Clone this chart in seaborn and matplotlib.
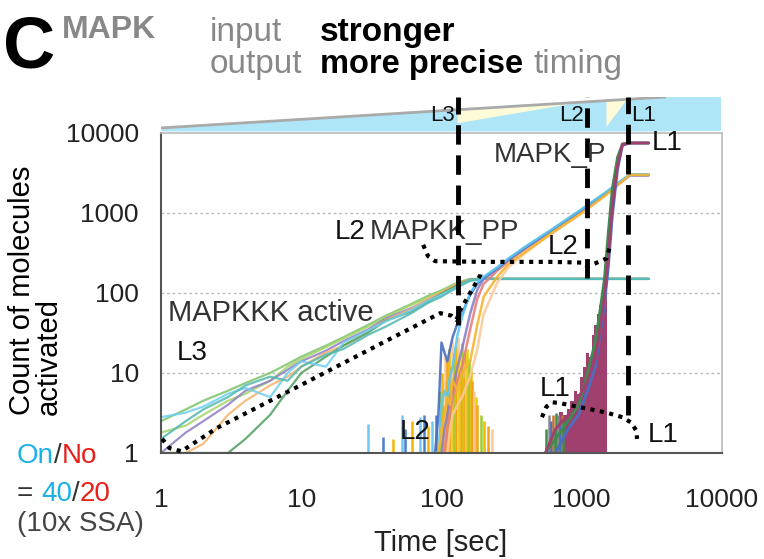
import math
import matplotlib
matplotlib.use("Agg")
import matplotlib.pyplot as plt
import seaborn as sns
from matplotlib.patches import Polygon

# ---- values (time in sec, molecule counts) ----
t_kkk = [1, 1.5, 2, 3, 4, 6, 8, 10, 15, 20, 30, 40, 60, 80, 100, 130, 160, 200, 3000]
kkk_green = [2.5, 3.5, 4.5, 6, 7.5, 10, 13, 16, 22, 28, 40, 52, 72, 92, 108, 135, 150, 150, 150]
kkk_cyan = [2.8, 3.2, 3.8, 5.5, 6.5, 5, 10, 14, 12, 24, 34, 44, 60, 80, 95, 120, 145, 150, 150]
kkk_purple = [1, 1.8, 2.5, 4, 6, 8, 11, 14, 19, 25, 35, 48, 64, 82, 100, 128, 148, 150, 150]
kkk_orange = [1, 1, 1.3, 3, 4.5, 7, 9, 12, 18, 22, 33, 46, 62, 85, 102, 130, 147, 150, 150]
kkk_dkgreen = [1, 1, 1, 1, 1.5, 3, 6, 10, 16, 22, 32, 45, 58, 78, 98, 125, 146, 150, 150]
kkk_ltgreen = [1.8, 2.2, 3, 4.5, 5.5, 8, 12, 15, 21, 27, 38, 50, 70, 88, 105, 132, 149, 150, 150]
kkk_teal = [1.5, 2.5, 3.5, 5, 7, 9, 8, 12, 17, 20, 30, 38, 55, 75, 90, 118, 142, 150, 150]

t_pp = [90, 95, 100, 105, 110, 115, 120, 130, 140, 160, 180, 200, 250, 300, 400, 600,
        1000, 1500, 2200, 3000]
pp_blue = [1, 3, 24, 18, 14, 20, 28, 42, 55, 95, 130, 155, 205, 265, 375, 600, 1100, 1800, 3000, 3000]
pp_cyan = [1, 1, 4, 6, 5, 9, 12, 30, 50, 100, 135, 160, 210, 270, 385, 610, 1120, 1850, 3050, 3050]
pp_purple = [1, 1, 1, 2, 3, 5, 6, 12, 20, 55, 110, 150, 200, 260, 370, 590, 1080, 1780, 2950, 2950]
pp_red = [1, 1, 1, 1, 2, 3, 5, 8, 12, 35, 85, 130, 190, 250, 360, 580, 1060, 1760, 3000, 3000]
pp_ltorange = [1, 1, 1, 1, 1, 2, 3, 4, 5, 9, 20, 55, 135, 210, 320, 540, 990, 1700, 2950, 2950]
pp_yellow = [1, 1, 2, 3, 5, 4, 8, 6, 10, 14, 40, 90, 160, 230, 330, 550, 1000, 1700, 3000, 3000]

l2_spike_t = [30, 38, 45, 52, 55, 62, 70, 75, 80, 86, 92, 98, 101, 104, 106, 108, 110, 112,
              114, 116, 118, 120, 122, 124, 126, 128, 131, 134, 137, 140, 143, 146, 149,
              152, 155, 158, 161, 165, 170, 175, 180, 190, 200, 215, 230]
l2_spike_v = [2.3, 1.6, 1.5, 3, 2, 2.5, 2.8, 3, 2.2, 2.5, 3, 6, 10, 4, 16, 8, 14, 6, 20, 12,
              25, 9, 18, 14, 22, 10, 28, 16, 12, 24, 9, 18, 13, 20, 8, 15, 11, 8, 6, 5,
              4, 3, 2.5, 2.2, 2]

t_p = [550, 650, 800, 950, 1100, 1250, 1350, 1450, 1550, 1650, 1800, 1950, 2200, 3000]
p_maroon = [1, 2, 3, 5, 8, 15, 35, 90, 300, 1200, 4000, 7200, 7500, 7500]
p_green = [1, 1.5, 2.5, 4, 10, 25, 60, 150, 600, 2000, 5000, 7300, 7500, 7500]
p_blue = [1, 1, 2, 3, 6, 12, 30, 70, 220, 900, 3500, 7000, 7500, 7500]

fill_t = [680, 700, 760, 800, 850, 900, 950, 1000, 1050, 1100, 1150, 1200, 1250, 1300,
          1350, 1400, 1450, 1500, 1510]
fill_v = [2.5, 3.3, 3, 3.5, 4.5, 6, 5.5, 9, 12, 18, 16, 30, 40, 55, 70, 100, 120, 200, 1]

l1_spike_t = [560, 580, 600, 620, 640, 660, 680, 700, 720, 740]
l1_spike_v = [2, 3, 2.5, 3, 2, 3.2, 3, 2.5, 3, 2.6]

# dotted guide curves and dashed thresholds
l3_path_t = [1.02, 1.15, 1.4, 2.5, 10, 40, 98, 118, 128, 135, 160, 190, 192]
l3_path_v = [1.5, 1.15, 1.05, 2.05, 7.1, 25, 56, 52, 46, 60, 100, 170, 190]
l2_path_t = [74, 80, 90, 200, 600, 1000, 1100, 1250, 1500, 1600]
l2_path_v = [400, 290, 250, 245, 245, 240, 215, 235, 270, 400]
l1_path_t = [520, 560, 620, 700, 1000, 1500, 1950, 2250, 2450, 2480]
l1_path_v = [2.8, 3.8, 4.3, 4.2, 3.7, 3.2, 2.8, 2.4, 1.9, 1.5]
thr_t = [131, 1090, 2140]
thr_bottom = [40, 153, 3]

yticks = [1, 10, 100, 1000, 10000]
xticks = [1, 10, 100, 1000, 10000]

sns.set_style("white")
plt.rcParams['font.family'] = ['Liberation Sans', 'DejaVu Sans']

W, H = 764, 559
fig = plt.figure(figsize=(W / 100, H / 100), dpi=100)

def fx(px):
    return px / W

def fy(py):
    return 1 - py / H

# top band (input strength wedge)
bax = fig.add_axes([fx(161), fy(131), fx(722 - 161), (131 - 97) / H])
bax.set_xscale('log')
bax.set_xlim(1, 10000)
bax.set_ylim(0, 1)
bax.axis('off')
band_t = [1, 3930]
band_y = [0.09, 1.0]
cyan = '#aee6f8'
bax.fill_between(band_t, [0, 0], band_y, color=cyan, lw=0)
bax.fill_between([3930, 9800], [0, 0], [1, 1], color=cyan, lw=0)

def grey_y(t):
    return 0.09 + 0.91 * math.log10(t) / 3.594

bax.add_patch(Polygon([(131, grey_y(131)), (131, 0.23), (1000, grey_y(1000))],
                      closed=True, color='#fdfbd8', lw=0))
bax.add_patch(Polygon([(1500, 0.12), (1500, grey_y(1500)), (2140, 0.97)],
                      closed=True, color='#fdfbd8', lw=0))
bax.plot(band_t, band_y, color='#aaaaaa', lw=2)
for lab, t in zip(['L3', 'L2'], [124, 1030]):
    bax.text(t, 0.45, lab, ha='right', va='center', fontsize=16, color='#111')
bax.text(2250, 0.45, 'L1', ha='left', va='center', fontsize=16, color='#111')

# main axes
ax = fig.add_axes([fx(161), fy(453), fx(722 - 161), (453 - 133) / H])
ax.set_xscale('log')
ax.set_yscale('log')

kkk = [(kkk_green, '#7cc36a'), (kkk_ltgreen, '#a6d46a'), (kkk_purple, '#8f7fc4'),
       (kkk_orange, '#f6b26b'), (kkk_dkgreen, '#4e9f5c'), (kkk_cyan, '#6fd0f0'),
       (kkk_teal, '#52b8b0')]
for v, c in kkk:
    sns.lineplot(x=t_kkk, y=v, color=c, lw=1.6, alpha=0.85, ax=ax,
                 estimator=None, sort=False)

early_cols = ['#6fc8f0', '#4a7fd0', '#f2b705']
late_cols = ['#f2b705', '#f59e1b', '#fbc99a', '#e8d200', '#f5a623', '#9acd32']
spike_colors = []
for i, t in enumerate(l2_spike_t):
    pal = early_cols if t < 97 else late_cols
    spike_colors.append(pal[i % len(pal)])
ax.vlines(l2_spike_t, 1, l2_spike_v, colors=spike_colors, lw=1.8)

pp = [(pp_ltorange, '#fbc99a'), (pp_red, '#e7807a'), (pp_purple, '#8f7fc4'),
      (pp_blue, '#4a6fc0'), (pp_cyan, '#5bc8f0'), (pp_yellow, '#f5b52e')]
for v, c in pp:
    sns.lineplot(x=t_pp, y=v, color=c, lw=1.8, alpha=0.9, ax=ax,
                 estimator=None, sort=False)

ax.vlines(l1_spike_t, 1, l1_spike_v,
          colors=['#3f8a4f', '#888888', '#4a6fc0', '#c87533', '#3f8a4f'] * 2, lw=1.8)
ax.fill_between(fill_t, 1, fill_v, color='#a0406f', lw=0, step='mid')
for v, c in [(p_blue, '#4a6fc0'), (p_green, '#3f8a4f'), (p_maroon, '#a0406f')]:
    sns.lineplot(x=t_p, y=v, color=c, lw=2, ax=ax, estimator=None, sort=False)

# dotted guides
for pt, pv in [(l3_path_t, l3_path_v), (l2_path_t, l2_path_v), (l1_path_t, l1_path_v)]:
    ax.plot(pt, pv, color='k', ls=(0, (1, 1.3)), lw=3, zorder=6)

# dashed thresholds
for t, vb in zip(thr_t, thr_bottom):
    ax.plot([t, t], [vb, 28000], color='k', ls=(0, (4, 2.2)), lw=3.5,
            clip_on=False, zorder=7)

ax.set_xlim(1, 10000)
ax.set_ylim(1, 10000)
ax.set_xticks(xticks)
ax.set_xticklabels([str(x) for x in xticks])
ax.set_yticks(yticks)
ax.set_yticklabels([str(y) for y in yticks])
ax.minorticks_off()
ax.tick_params(axis='x', direction='out', length=7, width=1.5, color='#555',
               pad=18, labelsize=19, labelcolor='#222')
ax.tick_params(axis='y', direction='out', length=6, width=1.5, color='#555',
               pad=10, labelsize=19, labelcolor='#222')
ax.set_xlabel('')
ax.set_ylabel('')
for g in [10, 100, 1000]:
    ax.axhline(g, color='#bbbbbb', ls=(0, (2, 2)), lw=1, zorder=0)
for s in ['left', 'bottom']:
    ax.spines[s].set_color('#555555')
    ax.spines[s].set_linewidth(1.5)
for s in ['top', 'right']:
    ax.spines[s].set_color('#bbbbbb')
    ax.spines[s].set_linewidth(1.2)

# in-plot labels
txt = '#333333'
ax.text(1500, 5300, 'MAPK_P', ha='right', va='center', fontsize=20, color=txt, zorder=8)
ax.text(31, 580, 'MAPKK_PP', ha='left', va='center', fontsize=20, color=txt)
ax.text(17.4, 580, 'L2', ha='left', va='center', fontsize=20, color='#111')
ax.text(1.12, 56, 'MAPKKK active', ha='left', va='center', fontsize=21, color=txt)
ax.text(1.3, 18, 'L3', ha='left', va='center', fontsize=20, color='#111')
ax.text(50.6, 1.83, 'L2', ha='left', va='center', fontsize=20, color='#111')
ax.text(505, 6.3, 'L1', ha='left', va='center', fontsize=20, color='#111')
ax.text(2960, 1.7, 'L1', ha='left', va='center', fontsize=20, color='#111')
ax.text(574, 380, 'L2', ha='left', va='center', fontsize=20, color='#111')
ax.text(3160, 7500, 'L1', ha='left', va='center', fontsize=20, color='#111')

# figure-level text
fig.text(fx(3), fy(67), 'C', fontsize=52, fontweight='bold', color='k', va='baseline')
fig.text(fx(62), fy(38), 'MAPK', fontsize=23, fontweight='bold', color='#888888', va='baseline')
fig.text(fx(210), fy(41), 'input', fontsize=24, color='#888888', va='baseline')
fig.text(fx(320), fy(41), 'stronger', fontsize=24, fontweight='bold', color='k', va='baseline')
fig.text(fx(210), fy(73), 'output', fontsize=24, color='#888888', va='baseline')
fig.text(fx(320), fy(73), 'more precise', fontsize=23.5, fontweight='bold',
         color='k', va='baseline')
fig.text(fx(533), fy(73), 'timing', fontsize=24, color='#888888', va='baseline')

fig.text(fx(35), fy(290), 'Count of molecules\nactivated', rotation=90, ha='center',
         va='center', fontsize=21, color='k', linespacing=0.95, multialignment='left')
fig.text(fx(441), fy(543), 'Time [sec]', ha='center', va='center', fontsize=21, color='#222')

on = fig.text(fx(17), fy(456), 'On', fontsize=20, color='#1ab0e8', va='center')
sl = plt.annotate('/', xy=(1, 0.5), xycoords=on, va='center', fontsize=20, color='#333')
plt.annotate('No', xy=(1, 0.5), xycoords=sl, va='center', fontsize=20, color='#e8201a')
eq = fig.text(fx(17), fy(494), '= ', fontsize=20, color='#333', va='center')
n40 = plt.annotate('40', xy=(1, 0.5), xycoords=eq, va='center', fontsize=20, color='#1ab0e8')
sl2 = plt.annotate('/', xy=(1, 0.5), xycoords=n40, va='center', fontsize=20, color='#333')
plt.annotate('20', xy=(1, 0.5), xycoords=sl2, va='center', fontsize=20, color='#e8201a')
fig.text(fx(17), fy(524), '(10x SSA)', fontsize=20, color='#444', va='center')

fig.savefig('out.png', dpi=100)
